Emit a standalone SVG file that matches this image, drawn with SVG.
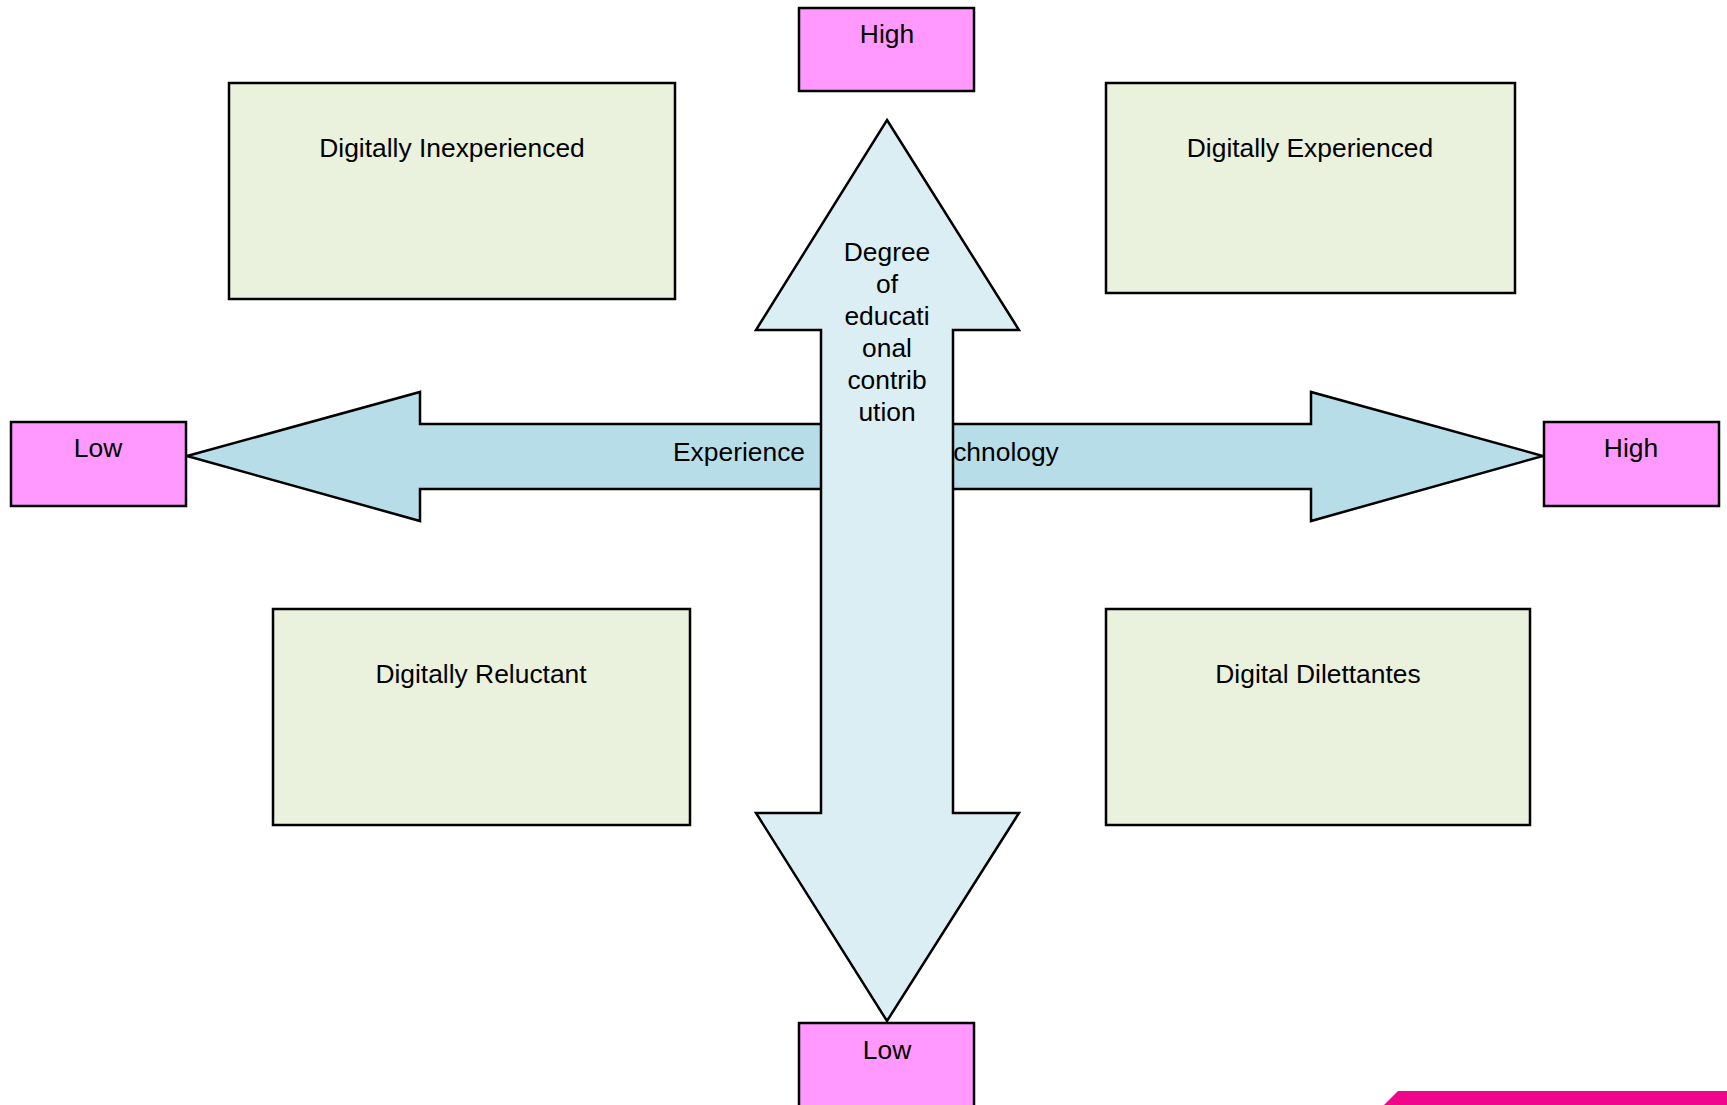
<svg xmlns="http://www.w3.org/2000/svg" width="1727" height="1105" viewBox="0 0 1727 1105">
<style>
text{font-family:"Liberation Sans",Arial,sans-serif;font-size:26.4px;fill:#000;text-anchor:middle}
.pink{fill:#FF99FF;stroke:#000;stroke-width:2.5}
.quad{fill:#EAF1DD;stroke:#000;stroke-width:2.5}
.harrow{fill:#B7DDE8;stroke:#000;stroke-width:2.5;stroke-linejoin:miter}
.varrow{fill:#DBEEF4;stroke:#000;stroke-width:2.5;stroke-linejoin:miter}
</style>
<rect width="1727" height="1105" fill="#fff"/>
<g id="connectors">
<g id="experience-arrow">
<polygon class="harrow" points="187,456 420,392 420,424 1311,424 1311,392 1543,456 1311,521 1311,489 420,489 420,521"/>
<text y="461"><tspan x="739">Experience</tspan><tspan x="1006">chnology</tspan></text>
</g>
<g id="education-arrow">
<polygon class="varrow" points="887,120 1019,330 953,330 953,813 1019,813 887,1021 756,813 821,813 821,330 756,330"/>
<text x="887" y="261">Degree</text>
<text x="887" y="293">of</text>
<text x="887" y="325">educati</text>
<text x="887" y="357">onal</text>
<text x="887" y="389">contrib</text>
<text x="887" y="421">ution</text>
</g>
</g>
<g id="top-high"><rect class="pink" x="799" y="8" width="175" height="83"/><text x="887" y="43">High</text></g>
<g id="left-low"><rect class="pink" x="11" y="422" width="175" height="84"/><text x="98" y="457">Low</text></g>
<g id="right-high"><rect class="pink" x="1544" y="422" width="175" height="84"/><text x="1631" y="457">High</text></g>
<g id="bottom-low"><rect class="pink" x="799" y="1023" width="175" height="95"/><text x="887" y="1059">Low</text></g>
<g id="digitally-inexperienced"><rect class="quad" x="229" y="83" width="446" height="216"/><text x="452" y="157">Digitally Inexperienced</text></g>
<g id="digitally-experienced"><rect class="quad" x="1106" y="83" width="409" height="210"/><text x="1310" y="157">Digitally Experienced</text></g>
<g id="digitally-reluctant"><rect class="quad" x="273" y="609" width="417" height="216"/><text x="481" y="683">Digitally Reluctant</text></g>
<g id="digital-dilettantes"><rect class="quad" x="1106" y="609" width="424" height="216"/><text x="1318" y="683">Digital Dilettantes</text></g>
<polygon points="1398,1091 1727,1091 1727,1105 1384,1105" fill="#F0068A"/>
</svg>
